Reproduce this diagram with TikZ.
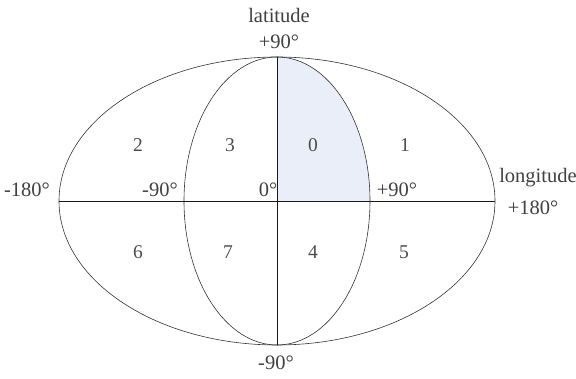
\documentclass[tikz,border=0pt]{standalone}
\usepackage{fontspec}
\setmainfont{Liberation Serif}
\begin{document}
\begin{tikzpicture}[x=1pt,y=1pt,
  lbl/.style={text=black!75, font=\fontsize{20.5}{22}\selectfont, inner sep=0pt},
  num/.style={text=black!70, font=\fontsize{19.5}{21}\selectfont, inner sep=0pt},
  thin line/.style={draw=black!80, line width=0.6pt},
  axis/.style={draw=black!90, line width=0.9pt}]
\useasboundingbox (0,0) rectangle (576,379);
\coordinate (c) at (277,178);
\coordinate (top) at (277,322);
\coordinate (bot) at (277,34);
\coordinate (left) at (59,178);
\coordinate (right) at (495,178);
% shaded quadrant
\fill[fill={rgb,255:red,233;green,238;blue,248}] (c) -- (top) arc[start angle=90, end angle=0, x radius=93pt, y radius=144pt] -- cycle;
% ellipses
\draw[thin line] (c) ellipse[x radius=218pt, y radius=144pt];
\draw[thin line] (c) ellipse[x radius=93pt, y radius=144pt];
% axes
\draw[axis] (left) -- (right);
\draw[axis] (top) -- (bot);
% labels
\node[lbl] (lat) at (279,364) {latitude};
\node[lbl] (p90t) at (279,337) {+90°};
\node[lbl] (m180) at (27,189) {-180°};
\node[lbl] (m90l) at (160,189) {-90°};
\node[lbl] (zero) at (268,189) {0°};
\node[lbl] (p90r) at (397,189) {+90°};
\node[lbl] (lon) at (538,201) {longitude};
\node[lbl] (p180) at (533,171) {+180°};
\node[lbl] (m90b) at (276,16) {-90°};
% region numbers
\node[num] (n2) at (138,234) {2};
\node[num] (n3) at (230,234) {3};
\node[num] (n0) at (313,234) {0};
\node[num] (n1) at (405,234) {1};
\node[num] (n6) at (138,127) {6};
\node[num] (n7) at (228,127) {7};
\node[num] (n4) at (313,127) {4};
\node[num] (n5) at (404,127) {5};
\end{tikzpicture}
\end{document}
